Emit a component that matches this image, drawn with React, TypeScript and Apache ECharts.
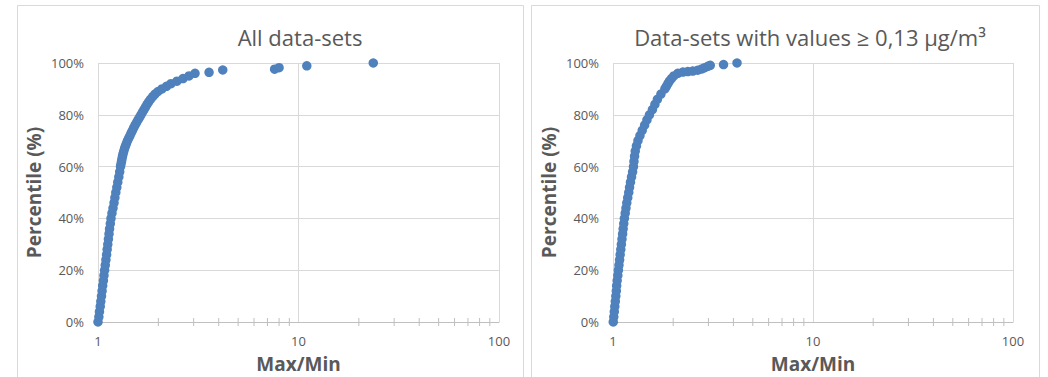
import React, { useEffect, useRef } from "react";
import * as echarts from "echarts";

// Left chart: all data-sets (Max/Min ratio vs cumulative percentile)
const leftPct = [
  0, 2, 4, 6, 8, 10, 12, 14, 16, 18, 20, 22, 24, 26, 28, 30, 32, 34, 36, 38, 40,
  42, 44, 46, 48, 50, 52, 54, 56, 58, 60, 61, 62, 63, 64, 65, 66, 67, 68, 69, 70,
  71, 72, 73, 74, 75, 76, 77, 78, 79, 80, 81, 82, 83, 84, 85, 86, 87, 88, 89, 90,
  91, 92, 93, 94, 95, 96, 96.4, 97.3, 97.6, 98.2, 98.9, 100,
];
const leftRatio = [
  1.0, 1.01, 1.017, 1.026, 1.033, 1.041, 1.048, 1.055, 1.064, 1.071, 1.079, 1.087,
  1.095, 1.104, 1.111, 1.119, 1.127, 1.135, 1.142, 1.152, 1.161, 1.174, 1.188,
  1.202, 1.214, 1.227, 1.241, 1.255, 1.27, 1.283, 1.295, 1.302, 1.31, 1.317, 1.325,
  1.334, 1.345, 1.357, 1.371, 1.387, 1.403, 1.423, 1.444, 1.464, 1.486, 1.507,
  1.53, 1.556, 1.583, 1.611, 1.638, 1.667, 1.696, 1.725, 1.756, 1.79, 1.827, 1.874,
  1.924, 1.992, 2.085, 2.196, 2.313, 2.477, 2.654, 2.844, 3.047, 3.58, 4.19, 7.6,
  8.0, 11.0, 23.6,
];

// Right chart: data-sets with values >= 0,13 µg/m³
const rightPct = [
  0, 2, 4, 6, 8, 10, 12, 14, 16, 18, 20, 22, 24, 26, 28, 30, 32, 34, 36, 38, 40,
  42, 44, 46, 48, 50, 52, 54, 56, 58, 60, 62, 64, 66, 68, 70, 72, 74, 76, 78, 80,
  82, 84, 86, 88, 90, 91, 92, 93, 94, 95, 96, 96.5, 96.7, 96.9, 97.2, 97.7, 98.2,
  98.7, 99.1, 99.4, 100,
];
const rightRatio = [
  1.003, 1.009, 1.015, 1.021, 1.027, 1.033, 1.039, 1.043, 1.049, 1.057, 1.064,
  1.071, 1.079, 1.086, 1.094, 1.101, 1.109, 1.117, 1.124, 1.132, 1.14, 1.151,
  1.161, 1.172, 1.185, 1.199, 1.21, 1.223, 1.238, 1.253, 1.266, 1.273, 1.282,
  1.292, 1.31, 1.333, 1.364, 1.4, 1.439, 1.478, 1.521, 1.574, 1.62, 1.667, 1.736,
  1.817, 1.849, 1.882, 1.914, 1.959, 2.015, 2.109, 2.236, 2.366, 2.505, 2.651,
  2.781, 2.876, 2.978, 3.064, 3.57, 4.17,
];

const minorTicks = [2, 3, 4, 5, 6, 7, 8, 9, 20, 30, 40, 50, 60, 70, 80, 90];
const yTicks = [0, 20, 40, 60, 80, 100];

const titles = ["All data-sets", "Data-sets with values ≥ 0,13 µg/m³"];
const xName = "Max/Min";
const yName = "Percentile (%)";

const FONT = "Open Sans";
const GREY_TEXT = "#595959";
const GRID_LINE = "#d9d9d9";
const AXIS_LINE = "#bfbfbf";
const DOT = "#4F81BD";

export default function App() {
  const ref = useRef<HTMLDivElement>(null);

  useEffect(() => {
    if (!ref.current) return;
    const chart = echarts.init(ref.current, null, { renderer: "svg" });

    const grids = [
      { left: 98, top: 63, width: 401, height: 259, outerBoundsMode: "none", containLabel: false },
      { left: 613, top: 63, width: 400, height: 259, outerBoundsMode: "none", containLabel: false },
    ];

    const makeX = (i: number) => ({
      gridIndex: i,
      type: "log" as const,
      logBase: 10,
      min: 1,
      max: 100,
      axisLine: { show: true, lineStyle: { color: AXIS_LINE, width: 1 } },
      axisTick: { show: false },
      axisLabel: { color: GREY_TEXT, fontSize: 13, margin: 12, fontFamily: FONT },
      splitLine: { show: true, lineStyle: { color: GRID_LINE, width: 1 } },
      name: xName,
      nameLocation: "middle" as const,
      nameGap: 32,
      nameTextStyle: { fontSize: 19, fontWeight: "bold" as const, color: GREY_TEXT, fontFamily: FONT },
    });

    const makeY = (i: number) => ({
      gridIndex: i,
      type: "value" as const,
      min: yTicks[0],
      max: yTicks[yTicks.length - 1],
      interval: 20,
      axisLine: { show: false },
      axisTick: { show: false },
      axisLabel: { color: GREY_TEXT, fontSize: 13, margin: 14, formatter: "{value}%", fontFamily: FONT },
      splitLine: { show: true, lineStyle: { color: GRID_LINE, width: 1 } },
      name: yName,
      nameLocation: "middle" as const,
      nameGap: 55,
      nameRotate: 90,
      nameTextStyle: { fontSize: 19, fontWeight: "bold" as const, color: GREY_TEXT, fontFamily: FONT },
    });

    const scatter = (i: number, xs: number[], ps: number[]) => ({
      type: "scatter" as const,
      xAxisIndex: i,
      yAxisIndex: i,
      symbol: "circle",
      symbolSize: 9.5,
      clip: false,
      itemStyle: { color: DOT, opacity: 1 },
      data: xs.map((x, k) => [x, ps[k]]),
    });

    const ticks = (i: number) => ({
      type: "custom" as const,
      xAxisIndex: i,
      yAxisIndex: i,
      silent: true,
      z: 1,
      data: minorTicks.map((v) => [v, 0]),
      renderItem: (_p: any, api: any) => {
        const pt = api.coord([api.value(0), 0]);
        return {
          type: "line",
          shape: { x1: pt[0], y1: pt[1] - 4, x2: pt[0], y2: pt[1] + 4 },
          style: { stroke: AXIS_LINE, lineWidth: 1 },
        };
      },
    });

    chart.setOption({
      animation: false,
      backgroundColor: "#ffffff",
      textStyle: { fontFamily: FONT },
      grid: grids,
      xAxis: [makeX(0), makeX(1)],
      yAxis: [makeY(0), makeY(1)],
      series: [
        ticks(0),
        ticks(1),
        scatter(0, leftRatio, leftPct),
        scatter(1, rightRatio, rightPct),
      ],
      graphic: [
        {
          type: "rect",
          shape: { x: 17.5, y: 5.5, width: 506, height: 400 },
          style: { fill: "none", stroke: GRID_LINE, lineWidth: 1 },
          silent: true,
        },
        {
          type: "rect",
          shape: { x: 531.5, y: 5.5, width: 508, height: 400 },
          style: { fill: "none", stroke: GRID_LINE, lineWidth: 1 },
          silent: true,
        },
        {
          type: "text",
          x: 300,
          y: 37,
          style: {
            text: titles[0],
            fontSize: 22,
            fontFamily: FONT,
            fill: GREY_TEXT,
            textAlign: "center",
            textVerticalAlign: "middle",
          },
        },
        {
          type: "text",
          x: 810,
          y: 37,
          style: {
            text: titles[1],
            fontSize: 22,
            fontFamily: FONT,
            fill: GREY_TEXT,
            textAlign: "center",
            textVerticalAlign: "middle",
          },
        },
      ],
    });

    return () => {
      chart.dispose();
    };
  }, []);

  return (
    <div
      ref={ref}
      style={{ position: "absolute", left: 0, top: 0, width: 1048, height: 377, background: "#fff" }}
    />
  );
}
